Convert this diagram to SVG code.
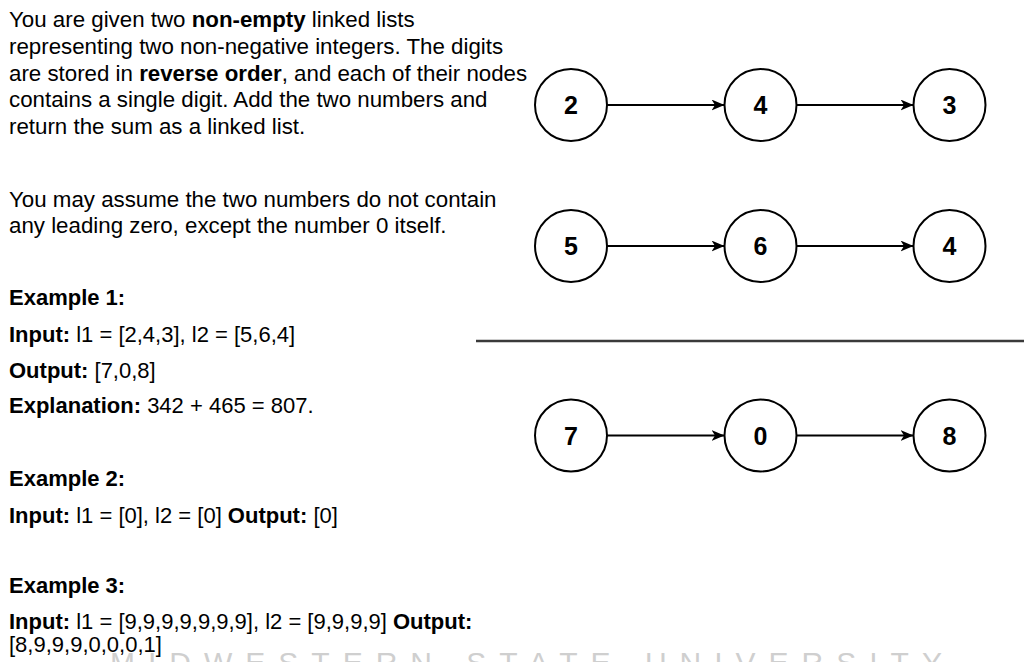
<svg xmlns="http://www.w3.org/2000/svg" width="1024" height="662" viewBox="0 0 1024 662">
<style>
  .t { font-family: "Liberation Sans", Arial, sans-serif; font-size: 22.3px; fill: #000; }
  .e { font-size: 22px; }
  .b { font-weight: bold; }
  .node circle { fill: #fff; stroke: #000; stroke-width: 2; }
  .node text { font-family: "Liberation Sans", Arial, sans-serif; font-size: 25px; font-weight: bold; fill: #000; text-anchor: middle; }
  .conn line { stroke: #000; stroke-width: 2; }
  .wm { font-family: "Liberation Sans", Arial, sans-serif; font-size: 30px; fill: #cfcfcf; letter-spacing: 13px; }
</style>
<defs>
  <marker id="arr" viewBox="0 0 13 11" refX="13" refY="5.5" markerWidth="13" markerHeight="11" markerUnits="userSpaceOnUse" orient="auto">
    <path d="M0,0 L13,5.5 L0,11 L3.5,5.5 Z" fill="#000"/>
  </marker>
</defs>
<rect width="1024" height="662" fill="#fff"/>

<g id="watermark">
  <text class="wm" x="110" y="673">MIDWESTERN STATE UNIVERSITY</text>
</g>

<g id="description">
  <text class="t" x="9" y="27">You are given two <tspan class="b">non-empty</tspan> linked lists</text>
  <text class="t" x="9" y="54">representing two non-negative integers. The digits</text>
  <text class="t" x="9" y="80.5">are stored in <tspan class="b">reverse order</tspan>, and each of their nodes</text>
  <text class="t" x="9" y="107">contains a single digit. Add the two numbers and</text>
  <text class="t" x="9" y="134">return the sum as a linked list.</text>
  <text class="t" x="9" y="207">You may assume the two numbers do not contain</text>
  <text class="t" x="9" y="233">any leading zero, except the number 0 itself.</text>
</g>

<g id="examples">
  <text class="t e b" x="9" y="305">Example 1:</text>
  <text class="t e" x="9" y="342"><tspan class="b">Input:</tspan> l1 = [2,4,3], l2 = [5,6,4]</text>
  <text class="t e" x="9" y="378"><tspan class="b">Output:</tspan> [7,0,8]</text>
  <text class="t e" x="9" y="413"><tspan class="b">Explanation:</tspan> 342 + 465 = 807.</text>
  <text class="t e b" x="9" y="486">Example 2:</text>
  <text class="t e" x="9" y="523"><tspan class="b">Input:</tspan> l1 = [0], l2 = [0] <tspan class="b">Output:</tspan> [0]</text>
  <text class="t e b" x="9" y="593">Example 3:</text>
  <text class="t e" x="9" y="629"><tspan class="b">Input:</tspan> l1 = [9,9,9,9,9,9,9], l2 = [9,9,9,9] <tspan class="b">Output:</tspan></text>
  <text class="t e" x="9" y="652">[8,9,9,9,0,0,0,1]</text>
</g>

<g id="separator">
  <line x1="476" y1="341" x2="1024" y2="341" stroke="#3a3a3a" stroke-width="2.5"/>
</g>

<g id="connectors" class="conn">
  <line x1="607" y1="105" x2="724.5" y2="105" marker-end="url(#arr)"/>
  <line x1="796.5" y1="105" x2="913.5" y2="105" marker-end="url(#arr)"/>
  <line x1="607" y1="246" x2="724.5" y2="246" marker-end="url(#arr)"/>
  <line x1="796.5" y1="246" x2="913.5" y2="246" marker-end="url(#arr)"/>
  <line x1="607" y1="435.5" x2="724.5" y2="435.5" marker-end="url(#arr)"/>
  <line x1="796.5" y1="435.5" x2="913.5" y2="435.5" marker-end="url(#arr)"/>
</g>

<g id="node-l1-2" class="node"><circle cx="571" cy="105" r="36"/><text x="571" y="114">2</text></g>
<g id="node-l1-4" class="node"><circle cx="760.5" cy="105" r="36"/><text x="760.5" y="114">4</text></g>
<g id="node-l1-3" class="node"><circle cx="949.5" cy="105" r="36"/><text x="949.5" y="114">3</text></g>

<g id="node-l2-5" class="node"><circle cx="571" cy="246" r="36"/><text x="571" y="255">5</text></g>
<g id="node-l2-6" class="node"><circle cx="760.5" cy="246" r="36"/><text x="760.5" y="255">6</text></g>
<g id="node-l2-4" class="node"><circle cx="949.5" cy="246" r="36"/><text x="949.5" y="255">4</text></g>

<g id="node-sum-7" class="node"><circle cx="571" cy="435.5" r="36"/><text x="571" y="444.5">7</text></g>
<g id="node-sum-0" class="node"><circle cx="760.5" cy="435.5" r="36"/><text x="760.5" y="444.5">0</text></g>
<g id="node-sum-8" class="node"><circle cx="949.5" cy="435.5" r="36"/><text x="949.5" y="444.5">8</text></g>
</svg>
